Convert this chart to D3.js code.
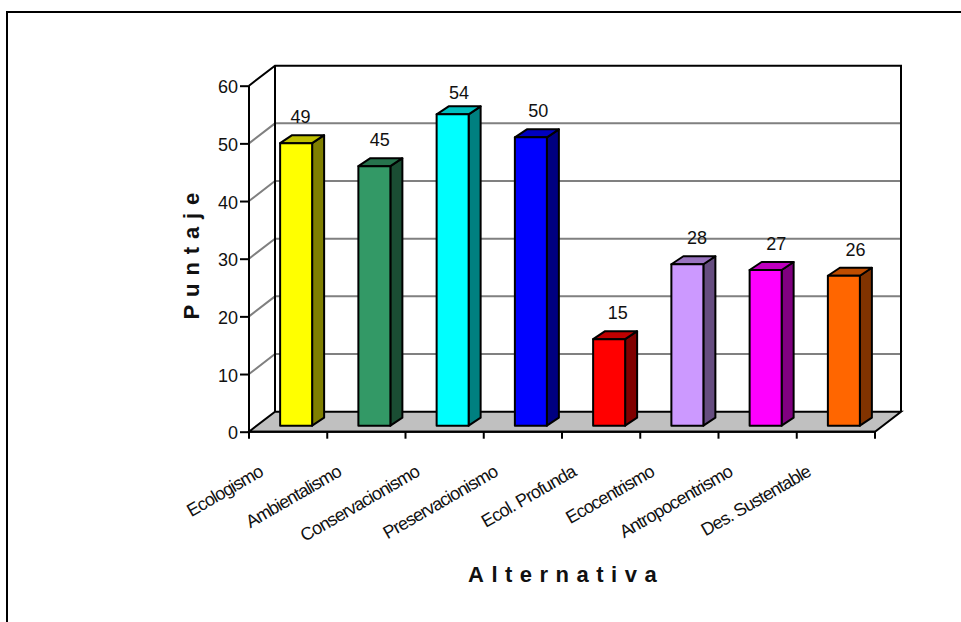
<!DOCTYPE html>
<html><head><meta charset="utf-8">
<script src="https://cdn.jsdelivr.net/npm/d3@7"></script>
<style>
html,body{margin:0;padding:0;background:#fff}
svg{display:block}
text{font-family:"Liberation Sans",Arial,sans-serif;fill:#111}
</style></head><body>
<svg id="chart" width="961" height="622"></svg>
<script>
// Scores per alternative
const categories = ["Ecologismo","Ambientalismo","Conservacionismo","Preservacionismo","Ecol. Profunda","Ecocentrismo","Antropocentrismo","Des. Sustentable"];
const scores = [49,45,54,50,15,28,27,26];
const faceColors = ["#ffff00","#339966","#00ffff","#0000ff","#ff0000","#cc99ff","#ff00ff","#ff6600"];
const yTicks = [0,10,20,30,40,50,60];
const xTitle = "Alternativa";
const yTitle = "Puntaje";

const svg = d3.select("#chart");
const W = 2;
const floorDepth = {dx:26, dy:-20};
const barDepth = {dx:12, dy:-8};
const barInset = {x:8, y:-6};
const barWidth = 32;

const x = d3.scaleBand().domain(categories).range([249,875]);
const y = d3.scaleLinear().domain([0,60]).range([431.7,85.7]);
// value labels sit on a slightly wider spacing than the bars
const labelX = d3.scalePoint().domain(categories).range([300.5,855.5]);
const poly = pts => pts.map(p=>p.join(",")).join(" ");
const black = "#000";

// chart frame
svg.append("rect").attr("x",7).attr("y",12).attr("width",1000).attr("height",700)
  .attr("fill","none").attr("stroke",black).attr("stroke-width",W);

// floor and back wall
const x0 = x.range()[0], x1 = x.range()[1], y0 = y(0), yT = y(60);
const d = floorDepth;
svg.append("polygon").attr("points",poly([[x0,y0],[x1,y0],[x1+d.dx,y0+d.dy],[x0+d.dx,y0+d.dy]]))
  .attr("fill","#c0c0c0").attr("stroke",black).attr("stroke-width",W).attr("stroke-linejoin","miter");

// gridlines on the side and back walls
yTicks.filter(t=>t>0&&t<60).forEach(t=>{
  svg.append("polyline").attr("points",poly([[x0,y(t)],[x0+d.dx,y(t)+d.dy],[x1+d.dx,y(t)+d.dy]]))
    .attr("fill","none").attr("stroke","#808080").attr("stroke-width",W);
});
svg.append("polyline").attr("points",poly([[x0,yT],[x0+d.dx,yT+d.dy],[x1+d.dx,yT+d.dy],[x1+d.dx,y0+d.dy]]))
  .attr("fill","none").attr("stroke",black).attr("stroke-width",W);
svg.append("line").attr("x1",x0+d.dx).attr("x2",x0+d.dx).attr("y1",yT+d.dy).attr("y2",y0+d.dy)
  .attr("stroke",black).attr("stroke-width",W);

// value axis
const yAxis = svg.append("g").attr("transform",`translate(${x0},0)`)
  .call(d3.axisLeft(y).tickValues(yTicks).tickSize(9).tickPadding(2).tickFormat(d3.format("d")));
yAxis.selectAll("path,line").attr("stroke",black).attr("stroke-width",W);
yAxis.select("path").attr("d",`M0,${y0}V${yT}`);
yAxis.selectAll("text").attr("font-size",18).attr("fill","#111").attr("dy","0.4em").style("font-family",'"Liberation Sans"');

// category axis ticks
svg.append("line").attr("x1",x0-1).attr("x2",x1).attr("y1",y0).attr("y2",y0).attr("stroke",black).attr("stroke-width",W);
svg.selectAll(".xtick").data(categories.concat([null])).join("line")
  .attr("x1",(c,i)=>x0+i*x.bandwidth()).attr("x2",(c,i)=>x0+i*x.bandwidth())
  .attr("y1",y0).attr("y2",y0+7).attr("stroke",black).attr("stroke-width",W);

// bars with shaded top and side faces
const bars = svg.selectAll(".bar").data(categories).join("g");
bars.each(function(c,i){
  const g = d3.select(this), v = scores[i];
  const l = x(c)+x.bandwidth()/2-barWidth/2+barInset.x, r = l+barWidth;
  const b = y(0)+barInset.y, t = y(v)+barInset.y;
  const col = d3.color(faceColors[i]);
  const mix = k => d3.rgb(col.r*k,col.g*k,col.b*k).formatHex();
  const o = barDepth;
  const stroke = sel => sel.attr("stroke",black).attr("stroke-width",W).attr("stroke-linejoin","round");
  g.append("polygon").attr("points",poly([[r,b],[r+o.dx,b+o.dy],[r+o.dx,t+o.dy],[r,t]])).attr("fill",mix(0.5)).call(stroke);
  g.append("polygon").attr("points",poly([[l,t],[r,t],[r+o.dx,t+o.dy],[l+o.dx,t+o.dy]])).attr("fill",mix(0.75)).call(stroke);
  g.append("rect").attr("x",l).attr("y",t).attr("width",barWidth).attr("height",b-t).attr("fill",col.formatHex()).call(stroke);
  // the tallest bar's label stays clear of the wall's top edge
  g.append("text").attr("x",labelX(c)).attr("y",Math.max(t-20,yT+d.dy+33)).attr("text-anchor","middle").attr("font-size",18).text(v);
});

// rotated category labels
svg.selectAll(".cat").data(categories).join("text")
  .attr("text-anchor","end").attr("font-size",18).attr("letter-spacing",-0.9)
  .attr("transform",c=>`translate(${x(c)+x.bandwidth()/2-24},${y0+43.5}) rotate(-30)`)
  .text(c=>c);

// axis titles
svg.append("text").attr("x",468).attr("y",581.5)
  .attr("font-size",22).attr("font-weight","bold").attr("letter-spacing",7.5).attr("fill","#000").text(xTitle);
svg.append("text").attr("transform","translate(199,319.5) rotate(-90)")
  .attr("font-size",22).attr("font-weight","bold").attr("letter-spacing",7.9).attr("fill","#000").text(yTitle);
</script>
</body></html>
